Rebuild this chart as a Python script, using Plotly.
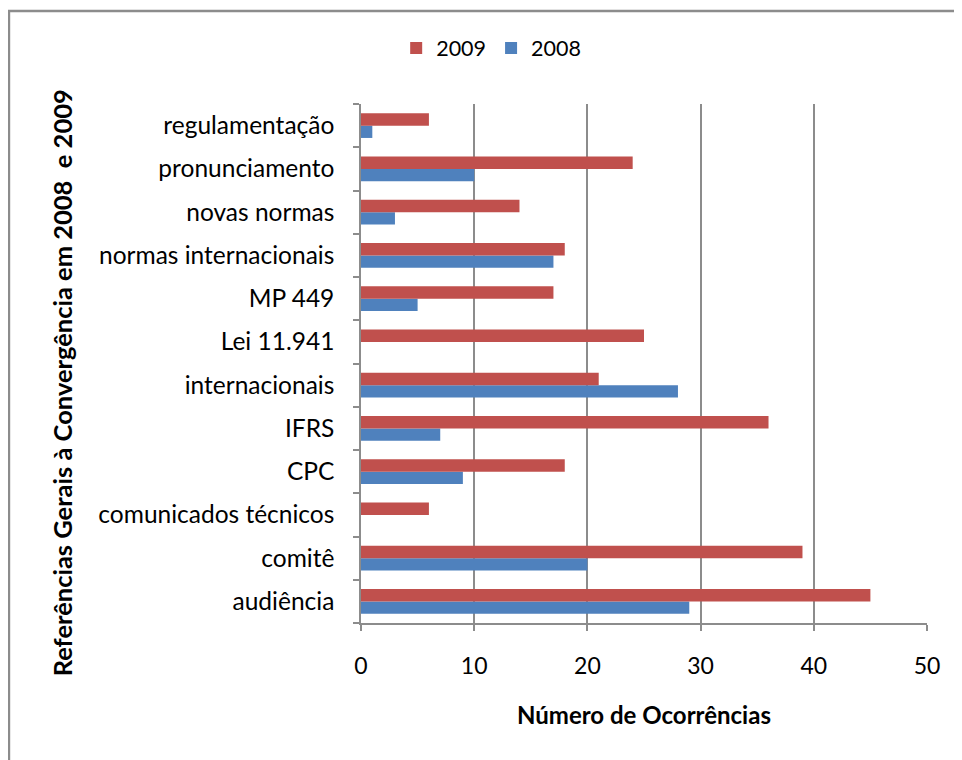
import plotly.graph_objects as go

# categories, bottom to top as drawn
categorias = ["audiência", "comitê", "comunicados técnicos", "CPC", "IFRS",
              "internacionais", "Lei 11.941", "MP 449", "normas internacionais",
              "novas normas", "pronunciamento", "regulamentação"]
valores_2008 = [29, 20, 0, 9, 7, 28, 0, 5, 17, 3, 10, 1]
valores_2009 = [45, 39, 6, 18, 36, 21, 25, 17, 18, 14, 24, 6]
ticks_x = [0, 10, 20, 30, 40, 50]

cor_2008 = "#4F81BD"
cor_2009 = "#C0504D"
cinza = "#8C8C8C"
fonte = "Lato"

fig = go.Figure()
fig.add_trace(go.Bar(y=categorias, x=valores_2008, name="2008", orientation="h",
                     marker=dict(color=cor_2008, line=dict(width=0))))
fig.add_trace(go.Bar(y=categorias, x=valores_2009, name="2009", orientation="h",
                     marker=dict(color=cor_2009, line=dict(width=0))))

# a página tem 8px de margem no body, por isso as margens estão deslocadas
fig.update_layout(
    width=962, height=760,
    margin=dict(l=353, r=43, t=96, b=145, autoexpand=False),
    paper_bgcolor="white", plot_bgcolor="white",
    barmode="group", bargap=0.43, bargroupgap=0,
    font=dict(family=fonte, size=23, color="black"),
    legend=dict(orientation="h", traceorder="reversed", x=0.23, xanchor="center",
                y=1.108, yanchor="middle", font=dict(size=21.5), itemwidth=30),
    showlegend=True,
)

fig.update_xaxes(
    range=[0, 50], tickvals=ticks_x, showgrid=True, gridcolor=cinza, gridwidth=1.5,
    showline=True, linecolor=cinza, linewidth=1.5, ticks="outside", ticklen=6,
    tickcolor=cinza, tickwidth=1.5, zeroline=False, ticklabelstandoff=16,
    title=dict(text="<b>Número de Ocorrências</b>", font=dict(size=24), standoff=29),
    fixedrange=True,
)
fig.update_yaxes(
    showgrid=False, showline=True, linecolor=cinza, linewidth=1.5,
    ticks="outside", ticklen=6, tickcolor=cinza, tickwidth=1.5, tickson="boundaries",
    ticklabelstandoff=20, tickfont=dict(size=24.5),
    fixedrange=True,
)

# título do eixo y (centrado no gráfico inteiro, não só na área dos dados)
fig.add_annotation(text="<b>Referências Gerais à Convergência em 2008  e 2009</b>",
                   xref="paper", yref="paper", x=-0.528, y=0.462,
                   textangle=-90, showarrow=False, font=dict(size=25.5),
                   xanchor="center", yanchor="middle")

# moldura do gráfico (cortada à direita e em baixo)
fig.add_shape(type="rect", xref="paper", yref="paper",
              x0=-0.622, x1=1.2, y0=-0.4, y1=1.179,
              line=dict(color=cinza, width=2.5), layer="below")

fig.write_html("out.html")
